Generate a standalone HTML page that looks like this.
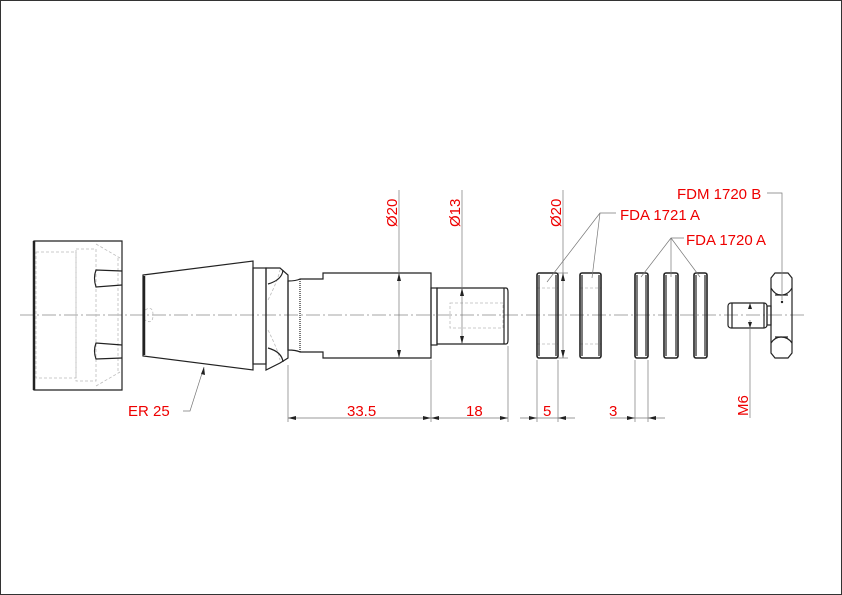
<!DOCTYPE html>
<html><head><meta charset="utf-8"><style>
html,body{margin:0;padding:0;background:#fff}
svg{display:block}
text{font-family:"Liberation Sans",sans-serif;fill:#e00;font-size:15px}
</style></head><body>
<svg width="842" height="595" viewBox="0 0 842 595" xmlns="http://www.w3.org/2000/svg">
<rect x="0.5" y="0.5" width="841" height="594" fill="#fff" stroke="#333" stroke-width="1"/>
<line x1="20" y1="315" x2="805" y2="315" stroke="#888" stroke-width="0.8" stroke-dasharray="14,3,2,3"/>
<g fill="none" stroke="#bbb" stroke-width="0.8" stroke-dasharray="3,2">
 <rect x="36" y="252" width="40" height="126"/>
 <rect x="76" y="249" width="20" height="132"/>
 <line x1="96" y1="244" x2="120" y2="258"/><line x1="96" y1="386" x2="120" y2="372"/>
 <line x1="118" y1="258" x2="118" y2="372"/>
 <rect x="450" y="303" width="53" height="25"/>
 <line x1="537" y1="288" x2="558" y2="288"/><line x1="537" y1="344" x2="558" y2="344"/>
 <line x1="580" y1="288" x2="601" y2="288"/><line x1="580" y1="344" x2="601" y2="344"/>
 <path d="M145 310 q8 -5 8 5 q0 10 -8 5"/>
 <path d="M268 300 q10 -20 12 -30 M268 330 q10 20 12 30"/>
</g>
<g fill="none" stroke="#222" stroke-width="1.2">
 <path d="M34 241 H122 V390 H34 Z"/>
 <line x1="34" y1="241" x2="34" y2="390" stroke-width="2.5"/>
 <path d="M122 271 L96 270 Q93 278 96 287 L122 285"/>
 <path d="M122 345 L96 343 Q93 351 96 359 L122 358"/>
 <path d="M143 275 L253 261 V370 L143 356 Z"/>
 <line x1="144" y1="276" x2="144" y2="355" stroke-width="2.5"/>
 <rect x="253" y="268" width="13" height="96"/>
 <path d="M266 268 H280 L288 275 V358 L280 363 L266 370 Z"/>
 <path d="M268 284 Q282 280 283 270 M268 348 Q282 352 283 362"/>
 <path d="M288 281 Q296 281 300 279 H323 V273 H431 V358 H323 V352 H300 Q296 350 288 350 Z"/>
 <line x1="300" y1="279" x2="300" y2="352" stroke-dasharray="1,1"/>
 <rect x="431" y="288" width="6" height="57"/>
 <path d="M437 288 H506 Q508 288 508 292 V340 Q508 344 506 344 H437 Z"/>
 <line x1="504" y1="288" x2="504" y2="344"/>
 <rect x="537" y="273" width="21" height="85" rx="2" stroke-width="1.6"/>
 <rect x="580" y="273" width="21" height="85" rx="2" stroke-width="1.6"/>
 <rect x="635" y="273" width="13" height="85" rx="2" stroke-width="1.6"/>
 <rect x="664" y="273" width="14" height="85" rx="2" stroke-width="1.6"/>
 <rect x="694" y="273" width="13" height="85" rx="2" stroke-width="1.6"/>
 <line x1="539" y1="275" x2="539" y2="356"/><line x1="556" y1="275" x2="556" y2="356"/>
 <line x1="582" y1="275" x2="582" y2="356"/><line x1="599" y1="275" x2="599" y2="356"/>
 <line x1="637" y1="275" x2="637" y2="356"/><line x1="646" y1="275" x2="646" y2="356"/>
 <line x1="666" y1="275" x2="666" y2="356"/><line x1="676" y1="275" x2="676" y2="356"/>
 <line x1="696" y1="275" x2="696" y2="356"/><line x1="705" y1="275" x2="705" y2="356"/>
 <rect x="728" y="303" width="39" height="25" rx="3"/>
 <line x1="732" y1="303" x2="732" y2="328"/><line x1="764" y1="303" x2="764" y2="328"/>
 <rect x="767" y="306" width="4" height="19"/>
 <path d="M775 273 H788 L792 278 V353 L788 358 H775 L771 353 V278 Z"/>
 <path d="M771 288 Q775 295 781 295 Q788 295 792 288"/>
 <path d="M771 343 Q775 337 781 337 Q788 337 792 343"/>
 <line x1="775" y1="295" x2="788" y2="295"/><line x1="775" y1="337" x2="788" y2="337"/>
</g>
<circle cx="782" cy="302" r="1.2" fill="#222"/>
<g stroke="#777" stroke-width="0.7" fill="none">
 <line x1="288" y1="365" x2="288" y2="422"/><line x1="431" y1="360" x2="431" y2="422"/>
 <line x1="508" y1="346" x2="508" y2="422"/><line x1="537" y1="360" x2="537" y2="422"/>
 <line x1="558" y1="360" x2="558" y2="422"/><line x1="635" y1="360" x2="635" y2="422"/>
 <line x1="648" y1="360" x2="648" y2="422"/>
 <line x1="288" y1="418" x2="508" y2="418"/>
 <line x1="520" y1="418" x2="575" y2="418"/><line x1="610" y1="418" x2="665" y2="418"/>
 <line x1="399" y1="190" x2="399" y2="358"/><line x1="462" y1="190" x2="462" y2="344"/>
 <line x1="563" y1="190" x2="563" y2="358"/>
 <line x1="558" y1="273" x2="568" y2="273"/><line x1="558" y1="358" x2="568" y2="358"/>
 <line x1="750" y1="320" x2="750" y2="418"/>
 <path d="M547 282 L600 213 H616 M592 278 L600 213"/>
 <path d="M641 277 L671 238 H684 M671 277 L671 238 M700 277 L671 238"/>
 <path d="M767 193 H782 V300"/>
 <path d="M183 411 H190 L204 367"/>
</g>
<g fill="#222">
 <path d="M288 418 l8 -2 v4z M431 418 l-8 -2 v4z M431 418 l8 -2 v4z M508 418 l-8 -2 v4z"/>
 <path d="M537 418 l-8 -2 v4z M558 418 l8 -2 v4z M635 418 l-8 -2 v4z M648 418 l8 -2 v4z"/>
 <path d="M399 273 l-2 8 h4z M399 358 l-2 -8 h4z M462 288 l-2 8 h4z M462 344 l-2 -8 h4z"/>
 <path d="M563 273 l-2 8 h4z M563 358 l-2 -8 h4z M750 303 l-2 6 h4z M750 328 l-2 -6 h4z"/>
 <path d="M204 367 l-3 7 l4 1z"/>
</g>
<text x="347" y="416">33.5</text>
<text x="466" y="416">18</text>
<text x="543" y="416">5</text>
<text x="609" y="416">3</text>
<text x="128" y="416">ER 25</text>
<text x="620" y="220">FDA 1721 A</text>
<text x="686" y="245">FDA 1720 A</text>
<text x="677" y="199">FDM 1720 B</text>
<text transform="translate(748,416) rotate(-90)">M6</text>
<text transform="translate(397,227) rotate(-90)" font-size="16">Ø20</text>
<text transform="translate(460,227) rotate(-90)" font-size="16">Ø13</text>
<text transform="translate(561,227) rotate(-90)" font-size="16">Ø20</text>
</svg>
</body></html>
